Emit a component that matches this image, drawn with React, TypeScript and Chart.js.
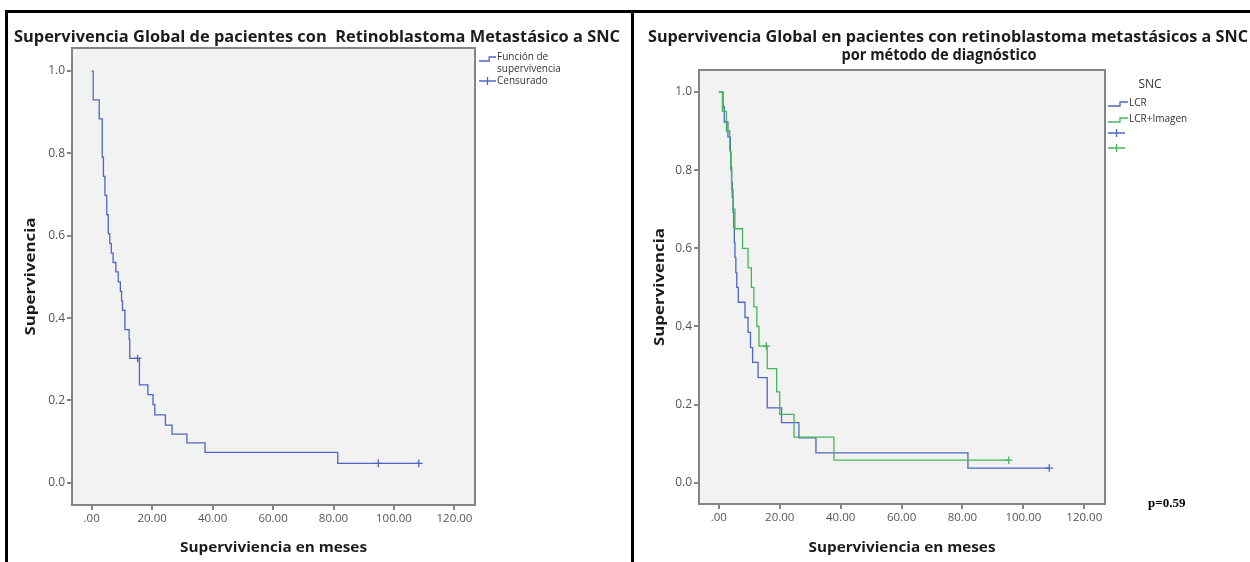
import React, { useEffect, useRef } from 'react';
import { Chart, registerables } from 'chart.js';

Chart.register(...registerables);

// ---------- Data ----------
const xTickValues = [0, 20, 40, 60, 80, 100, 120];
const xTickLabels = ['.00', '20.00', '40.00', '60.00', '80.00', '100.00', '120.00'];
const yTickValues = [0, 0.2, 0.4, 0.6, 0.8, 1.0];
const yTickLabels = ['0.0', '0.2', '0.4', '0.6', '0.8', '1.0'];

// Left panel: overall survival (Kaplan-Meier step points: time, survival after event)
const overallTimes = [0, 0.5, 2.5, 3.5, 3.9, 4.4, 5.0, 5.5, 6.0, 6.5, 7.1, 8.0, 8.8, 9.5, 9.9, 10.2, 11.0, 12.4, 12.6, 15.8, 18.6, 20.3, 20.9, 24.4, 26.6, 31.5, 37.5, 81.4, 108.2];
const overallSurv = [1.0, 0.93, 0.884, 0.791, 0.744, 0.698, 0.651, 0.605, 0.581, 0.558, 0.535, 0.512, 0.488, 0.465, 0.442, 0.419, 0.372, 0.349, 0.302, 0.238, 0.214, 0.19, 0.165, 0.14, 0.118, 0.097, 0.074, 0.047, 0.047];
const overallCensorTimes = [15.2, 94.8, 108.2];
const overallCensorSurv = [0.302, 0.047, 0.047];

// Right panel: by diagnostic method
const lcrTimes = [0, 1.4, 1.8, 3.0, 3.8, 4.0, 4.2, 4.4, 4.7, 4.9, 5.1, 5.3, 5.6, 5.9, 6.4, 8.6, 9.6, 10.4, 11.1, 12.9, 15.9, 20.6, 26.3, 31.9, 81.8, 108.5];
const lcrSurv = [1.0, 0.962, 0.923, 0.885, 0.846, 0.808, 0.769, 0.731, 0.692, 0.654, 0.615, 0.577, 0.538, 0.5, 0.462, 0.423, 0.385, 0.346, 0.308, 0.269, 0.192, 0.154, 0.115, 0.077, 0.038, 0.038];
const lcrCensorTimes = [108.5];
const lcrCensorSurv = [0.038];

const imgTimes = [0, 1.2, 2.5, 3.6, 3.9, 4.2, 4.7, 5.3, 7.8, 9.6, 10.7, 11.5, 12.5, 13.2, 15.9, 19.0, 20.0, 24.7, 37.8, 95.2];
const imgSurv = [1.0, 0.95, 0.9, 0.85, 0.8, 0.75, 0.7, 0.65, 0.6, 0.55, 0.5, 0.45, 0.4, 0.35, 0.292, 0.233, 0.175, 0.117, 0.058, 0.058];
const imgCensorTimes = [15.6, 95.2];
const imgCensorSurv = [0.35, 0.058];

const leftTitle = 'Supervivencia Global de pacientes con  Retinoblastoma Metastásico a SNC';
const rightTitle = ['Supervivencia Global en pacientes con retinoblastoma metastásicos a SNC', 'por método de diagnóstico'];
const yAxisTitle = 'Supervivencia';
const xAxisTitle = 'Superviviencia en meses';
const leftLegend = ['Función de', 'supervivencia', 'Censurado'];
const rightLegendTitle = 'SNC';
const groupNames = ['LCR', 'LCR+Imagen'];
const pValueText = 'p=0.59';

// ---------- Styles ----------
const BLUE = '#4e66c2';
const GREEN = '#45b65a';
const AXIS_GRAY = '#858585';
const PLOT_BG = '#f2f2f2';
const TICK_COLOR = '#555555';
const TEXT = '#1c1c1c';
const SANS = '"Open Sans", "Noto Sans", sans-serif';
const X_MIN = -6.5, X_MAX = 126.8, Y_MIN = -0.054, Y_MAX = 1.056;

function pts(xs: number[], ys: number[]) {
  return xs.map((x, i) => ({ x, y: ys[i] }));
}

function drawText(ctx: CanvasRenderingContext2D, text: string, x: number, y: number, font: string, color: string, align: CanvasTextAlign, targetWidth?: number, rotate?: boolean) {
  ctx.save();
  ctx.font = font;
  ctx.fillStyle = color;
  ctx.textAlign = align;
  ctx.textBaseline = 'middle';
  ctx.translate(x, y);
  if (rotate) ctx.rotate(-Math.PI / 2);
  if (targetWidth) {
    const w = ctx.measureText(text).width;
    if (w > 0) ctx.scale(targetWidth / w, 1);
  }
  ctx.fillText(text, 0, 0);
  ctx.restore();
}

function scalesFor(yWidth: number, xHeight: number): any {
  return {
    x: {
      type: 'linear', min: X_MIN, max: X_MAX,
      afterBuildTicks: (s: any) => { s.ticks = xTickValues.map((v) => ({ value: v })); },
      afterFit: (s: any) => { s.height = xHeight; },
      ticks: {
        autoSkip: false, maxRotation: 0, minRotation: 0, padding: 2, color: TICK_COLOR,
        font: { family: SANS, size: 11.5 },
        callback: (_v: any, i: number) => xTickLabels[i],
      },
      grid: { drawOnChartArea: false, drawTicks: true, tickLength: 5, color: AXIS_GRAY, lineWidth: 2 },
      border: { display: false },
    },
    y: {
      type: 'linear', min: Y_MIN, max: Y_MAX,
      afterBuildTicks: (s: any) => { s.ticks = yTickValues.map((v) => ({ value: v })); },
      afterFit: (s: any) => { s.width = yWidth; },
      ticks: {
        autoSkip: false, padding: 2, color: TICK_COLOR,
        font: { family: SANS, size: 12 },
        callback: (_v: any, i: number) => yTickLabels[i],
      },
      grid: { drawOnChartArea: false, drawTicks: true, tickLength: 5, color: AXIS_GRAY, lineWidth: 2 },
      border: { display: false },
    },
  };
}

function panelPlugin(drawExtras: (ctx: CanvasRenderingContext2D, area: any) => void) {
  return {
    id: 'panelDecor',
    beforeDraw(chart: any) {
      const { ctx, chartArea: a } = chart;
      ctx.save();
      ctx.fillStyle = PLOT_BG;
      ctx.fillRect(a.left, a.top, a.right - a.left, a.bottom - a.top);
      ctx.restore();
    },
    afterDraw(chart: any) {
      const { ctx, chartArea: a } = chart;
      ctx.save();
      ctx.strokeStyle = AXIS_GRAY;
      ctx.lineWidth = 2;
      ctx.strokeRect(a.left, a.top, a.right - a.left, a.bottom - a.top);
      ctx.restore();
      drawExtras(ctx, a);
    },
  };
}

function stepSymbol(ctx: CanvasRenderingContext2D, x0: number, x1: number, yLow: number, yHigh: number, color: string) {
  const xm = x0 + (x1 - x0) * 0.6;
  ctx.save();
  ctx.strokeStyle = color;
  ctx.lineWidth = 1.3;
  ctx.beginPath();
  ctx.moveTo(x0, yLow);
  ctx.lineTo(xm, yLow);
  ctx.lineTo(xm, yHigh);
  ctx.lineTo(x1, yHigh);
  ctx.stroke();
  ctx.restore();
}

function crossSymbol(ctx: CanvasRenderingContext2D, x0: number, x1: number, y: number, color: string) {
  const xm = (x0 + x1) / 2;
  ctx.save();
  ctx.strokeStyle = color;
  ctx.lineWidth = 1.3;
  ctx.beginPath();
  ctx.moveTo(x0, y);
  ctx.lineTo(x1, y);
  ctx.moveTo(xm, y - 4);
  ctx.lineTo(xm, y + 4);
  ctx.stroke();
  ctx.restore();
}

const lineDs = (label: string, xs: number[], ys: number[], color: string, order: number) => ({
  label, data: pts(xs, ys), stepped: 'before', borderColor: color, borderWidth: 1.3,
  pointRadius: 0, pointHoverRadius: 0, fill: false, order,
});
const censorDs = (label: string, xs: number[], ys: number[], color: string, order: number) => ({
  label, data: pts(xs, ys), showLine: false, pointStyle: 'cross', pointRadius: 3.8,
  pointBorderColor: color, borderColor: color, pointBorderWidth: 1.3, pointHoverRadius: 0, order,
});

export default function App() {
  const leftRef = useRef<HTMLCanvasElement>(null);
  const rightRef = useRef<HTMLCanvasElement>(null);

  useEffect(() => {
    const titleFont = `bold 16px ${SANS}`;
    const axisFont = `bold 15px ${SANS}`;
    const legendFont = `10px ${SANS}`;

    const left = new Chart(leftRef.current!, {
      type: 'line',
      data: {
        datasets: [
          censorDs('Censurado', overallCensorTimes, overallCensorSurv, BLUE, 0) as any,
          lineDs('Función de supervivencia', overallTimes, overallSurv, BLUE, 1) as any,
        ],
      },
      options: {
        animation: false, responsive: false, maintainAspectRatio: false, events: [],
        layout: { padding: { left: 0, top: 48, right: 156, bottom: 0 } },
        plugins: { legend: { display: false }, title: { display: false }, tooltip: { enabled: false } },
        scales: scalesFor(72, 57),
      },
      plugins: [panelPlugin((ctx, a) => {
        drawText(ctx, leftTitle, 317, 37, titleFont, TEXT, 'center', 606);
        drawText(ctx, yAxisTitle, 31, (a.top + a.bottom) / 2, axisFont, TEXT, 'center', 118, true);
        drawText(ctx, xAxisTitle, (a.left + a.right) / 2, 548, axisFont, TEXT, 'center', 187);
        stepSymbol(ctx, 479, 496, 61, 57, BLUE);
        drawText(ctx, leftLegend[0], 497, 57, legendFont, '#333', 'left');
        drawText(ctx, leftLegend[1], 497, 69, legendFont, '#333', 'left');
        crossSymbol(ctx, 479, 496, 81, BLUE);
        drawText(ctx, leftLegend[2], 497, 81, legendFont, '#333', 'left');
      }) as any],
    });

    const right = new Chart(rightRef.current!, {
      type: 'line',
      data: {
        datasets: [
          censorDs(groupNames[1] + ' censurado', imgCensorTimes, imgCensorSurv, GREEN, 0) as any,
          censorDs(groupNames[0] + ' censurado', lcrCensorTimes, lcrCensorSurv, BLUE, 1) as any,
          lineDs(groupNames[1], imgTimes, imgSurv, GREEN, 2) as any,
          lineDs(groupNames[0], lcrTimes, lcrSurv, BLUE, 3) as any,
        ],
      },
      options: {
        animation: false, responsive: false, maintainAspectRatio: false, events: [],
        layout: { padding: { left: 0, top: 70, right: 145, bottom: 0 } },
        plugins: { legend: { display: false }, title: { display: false }, tooltip: { enabled: false } },
        scales: scalesFor(65, 58),
      },
      plugins: [panelPlugin((ctx, a) => {
        drawText(ctx, rightTitle[0], 314, 37, titleFont, TEXT, 'center', 600);
        drawText(ctx, rightTitle[1], 305, 55, titleFont, TEXT, 'center', 195);
        drawText(ctx, yAxisTitle, 26, (a.top + a.bottom) / 2, axisFont, TEXT, 'center', 118, true);
        drawText(ctx, xAxisTitle, (a.left + a.right) / 2, 548, axisFont, TEXT, 'center', 187);
        drawText(ctx, rightLegendTitle, 516, 85, `12px ${SANS}`, '#333', 'center');
        stepSymbol(ctx, 474, 494, 106, 102, BLUE);
        drawText(ctx, groupNames[0], 495, 103.5, legendFont, '#333', 'left');
        stepSymbol(ctx, 474, 494, 122, 118, GREEN);
        drawText(ctx, groupNames[1], 495, 119.5, legendFont, '#333', 'left');
        crossSymbol(ctx, 474, 491, 133, BLUE);
        crossSymbol(ctx, 474, 491, 148, GREEN);
        drawText(ctx, pValueText, 514, 504, 'bold 13px "Liberation Serif", "Times New Roman", serif', '#000', 'left');
      }) as any],
    });

    return () => {
      left.destroy();
      right.destroy();
    };
  }, []);

  const line = (style: React.CSSProperties) => (
    <div style={{ position: 'absolute', background: '#000', ...style }} />
  );

  return (
    <div style={{ position: 'absolute', left: 0, top: 0, width: 1250, height: 562, background: '#fff', overflow: 'hidden' }}>
      <canvas ref={leftRef} width={631} height={562} style={{ position: 'absolute', left: 0, top: 0, width: 631, height: 562 }} />
      <canvas ref={rightRef} width={616} height={562} style={{ position: 'absolute', left: 634, top: 0, width: 616, height: 562 }} />
      {line({ left: 5, top: 10, width: 1245, height: 3 })}
      {line({ left: 5, top: 10, width: 3, height: 552 })}
      {line({ left: 631, top: 10, width: 3, height: 552 })}
    </div>
  );
}
